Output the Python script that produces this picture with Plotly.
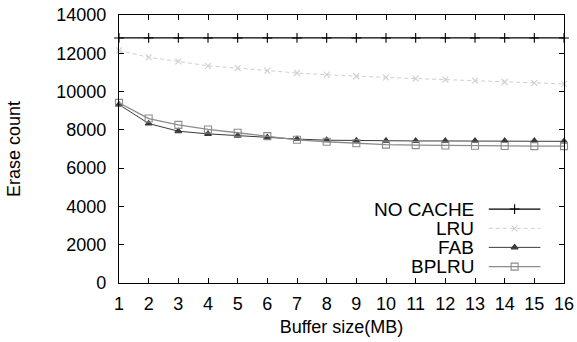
import plotly.graph_objects as go

buffer_mb = list(range(1, 17))
no_cache = [12800] * 16
lru = [12150, 11790, 11580, 11340, 11230, 11090, 10970, 10880, 10800, 10740, 10680, 10620, 10570, 10500, 10460, 10400]
fab = [9320, 8330, 7930, 7790, 7700, 7600, 7520, 7460, 7440, 7430, 7420, 7420, 7420, 7420, 7420, 7400]
bplru = [9410, 8590, 8260, 8020, 7850, 7670, 7480, 7380, 7300, 7230, 7200, 7180, 7170, 7160, 7150, 7150]

series = [
    ("NO CACHE", no_cache, "#000000", "solid", "cross-thin", 7, 1.2),
    ("LRU", lru, "#cfcfcf", "4px,3px", "x-thin", 6, 1.0),
    ("FAB", fab, "#3a3a3a", "solid", "triangle-up", 6, 1.0),
    ("BPLRU", bplru, "#8c8c8c", "solid", "square-open", 7, 1.3),
]

FONT = "Liberation Sans, Arial, Helvetica, sans-serif"
fig = go.Figure()
for name, vals, col, dash, sym, ms, lw in series:
    fig.add_trace(go.Scatter(
        x=buffer_mb, y=vals, mode="lines+markers", name=name,
        line=dict(color=col, width=lw, dash=dash),
        marker=dict(symbol=sym, size=ms, color=col, line=dict(color=col, width=1.1)),
        showlegend=False, cliponaxis=False))

# custom legend (text right, sample on the right)
rows_y = [0.276, 0.204, 0.133, 0.061]
for (name, vals, col, dash, sym, ms, lw), ry in zip(series, rows_y):
    fig.add_annotation(x=0.802, y=ry, xref="paper", yref="paper", text=name,
                       showarrow=False, xanchor="right", yanchor="middle",
                       font=dict(family=FONT, size=19, color="#000"))
    fig.add_trace(go.Scatter(
        x=[0.831, 0.889, 0.947], y=[ry] * 3, xaxis="x2", yaxis="y2",
        mode="lines+markers", showlegend=False, hoverinfo="skip",
        line=dict(color=col, width=lw, dash=dash),
        marker=dict(symbol=sym, size=ms, color=col, opacity=[0, 1, 0],
                    line=dict(color=col, width=1.1))))

axis_common = dict(showgrid=False, zeroline=False, ticks="inside", ticklen=5,
                   tickcolor="#000", linecolor="#000", linewidth=1.2, showline=True,
                   mirror="ticks", automargin=False,
                   tickfont=dict(family=FONT, size=18, color="#000"))
fig.update_layout(
    width=577, height=342, margin=dict(l=119, r=13, t=15, b=59),
    plot_bgcolor="white", paper_bgcolor="white",
    xaxis=dict(range=[1, 16], dtick=1, tick0=1, ticklabelstandoff=4,
               title=dict(text="Buffer size(MB)", font=dict(family=FONT, size=18, color="#000"), standoff=7),
               **axis_common),
    yaxis=dict(range=[0, 14000], dtick=2000, ticklabelstandoff=8, tickformat="d",
               title=dict(text="Erase count", font=dict(family=FONT, size=18, color="#000"), standoff=30),
               **axis_common),
    xaxis2=dict(domain=[0, 1], range=[0, 1], overlaying="x", visible=False),
    yaxis2=dict(domain=[0, 1], range=[0, 1], overlaying="y", visible=False),
)
fig.write_html("out.html")
